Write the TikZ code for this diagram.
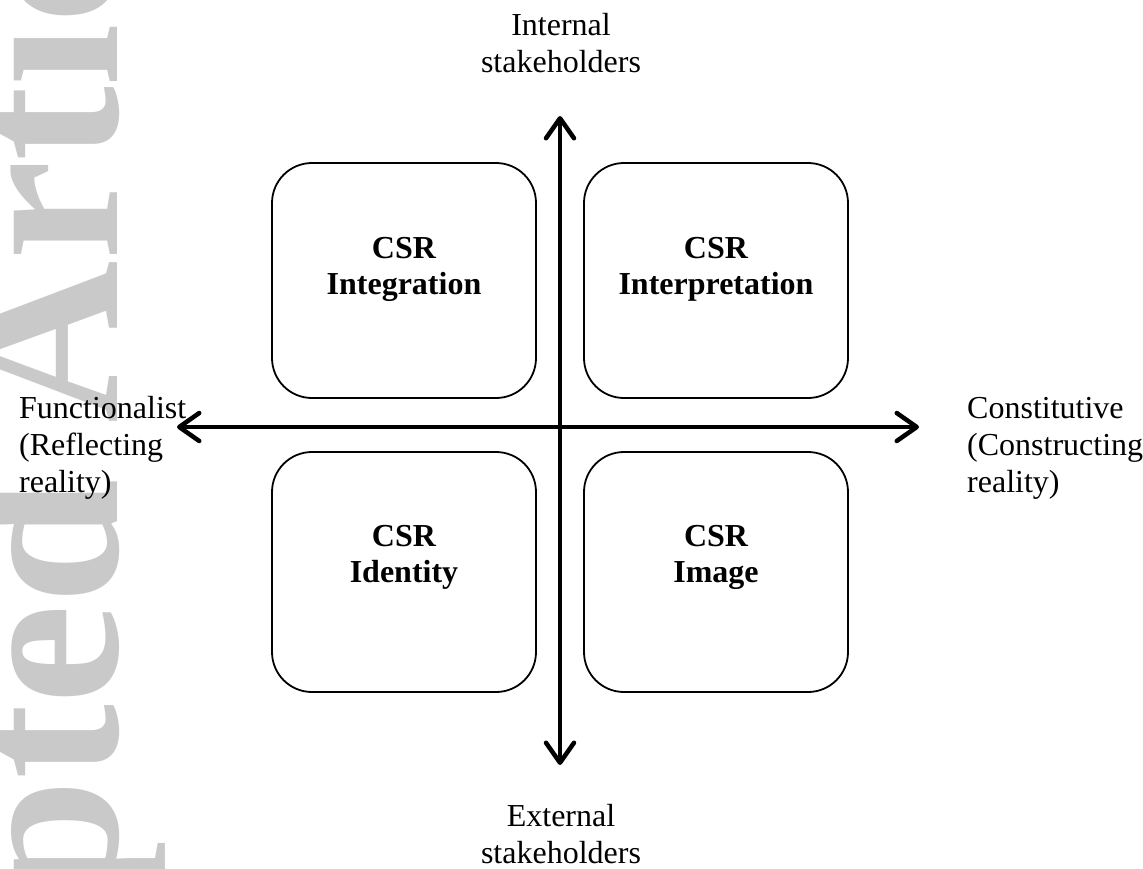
\documentclass[tikz,border=0pt]{standalone}
\usepackage{fontspec}
\setmainfont{Liberation Serif}
\usetikzlibrary{arrows.meta}
\tikzset{
  quad/.style={draw, line width=1.8pt, rounded corners=40pt, minimum width=264pt, minimum height=235pt, inner sep=0pt},
  quadlabel/.style={font=\fontsize{32}{36}\selectfont\bfseries, align=center, inner sep=0pt, anchor=north},
  axislabel/.style={font=\fontsize{32}{37}\selectfont, inner sep=0pt},
  axis/.style={line width=4.5pt, {Straight Barb[length=20pt,width=28pt,round]}-{Straight Barb[length=20pt,width=28pt,round]}},
  watermark/.style={font=\fontsize{225}{225}\selectfont\bfseries, text=black!21, inner sep=0pt, rotate=90, anchor=base west}
}
\begin{document}
\begin{tikzpicture}[x=1pt,y=-1pt]
\useasboundingbox (0,0) rectangle (1143,868);
\begin{scope}
\clip (0,0) rectangle (1143,868);
\node[watermark] (wm) at (117,1367) {Accepted Article};
\end{scope}
% quadrant boxes
\node[quad] (tl) at (404,280.5) {};
\node[quad] (tr) at (716,280.5) {};
\node[quad, minimum height=240pt] (bl) at (404,572) {};
\node[quad, minimum height=240pt] (br) at (716,572) {};
\node[quadlabel] (tlt) at (404,237) {CSR\\Integration};
\node[quadlabel] (trt) at (716,237) {CSR\\Interpretation};
\node[quadlabel] (blt) at (404,525) {CSR\\Identity};
\node[quadlabel] (brt) at (716,525) {CSR\\Image};
% axes
\coordinate (top) at (560,116);
\coordinate (bot) at (560,765);
\coordinate (left) at (177,427);
\coordinate (right) at (919,427);
\draw[axis] (bot) -- (top);
\draw[axis] (left) -- (right);
% axis labels
\node[axislabel, align=center, anchor=north] (int) at (561,13) {Internal\\stakeholders};
\node[axislabel, align=center, anchor=north] (ext) at (561,804) {External\\stakeholders};
\node[axislabel, align=left, anchor=north west] (fun) at (19,396) {Functionalist\\(Reflecting\\reality)};
\node[axislabel, align=left, anchor=north west] (con) at (967,397) {Constitutive\\(Constructing\\reality)};
\end{tikzpicture}
\end{document}
